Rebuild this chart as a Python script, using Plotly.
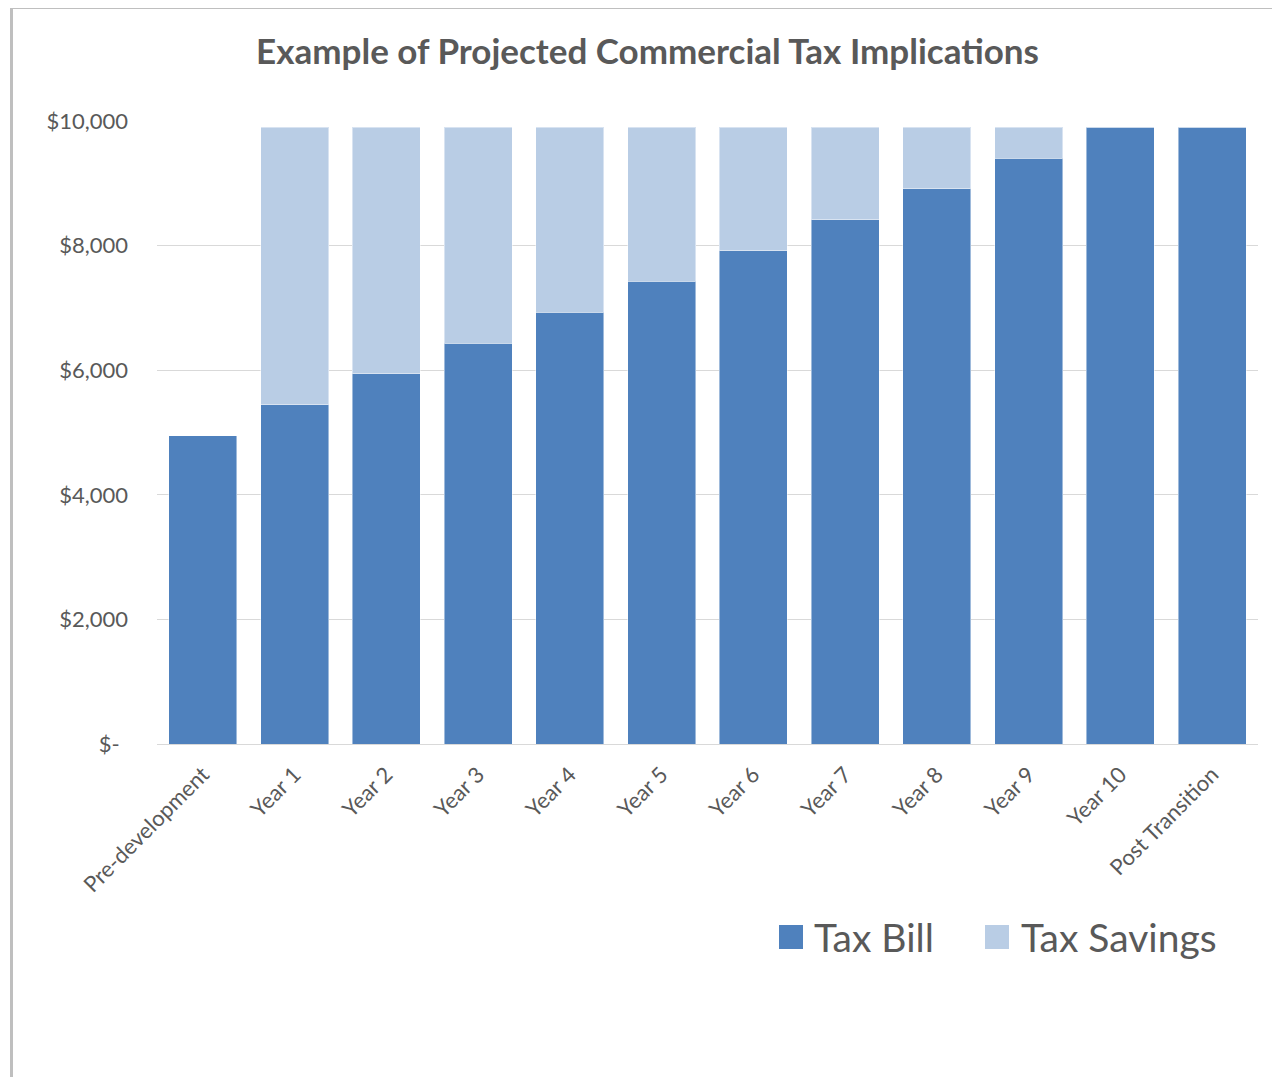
import plotly.graph_objects as go

categories = ["Pre-development", "Year 1", "Year 2", "Year 3", "Year 4", "Year 5",
              "Year 6", "Year 7", "Year 8", "Year 9", "Year 10", "Post Transition"]
tax_bill = [4950, 5445, 5940, 6435, 6930, 7425, 7920, 8415, 8910, 9405, 9900, 9900]
tax_savings = [0, 4455, 3960, 3465, 2970, 2475, 1980, 1485, 990, 495, 0, 0]
y_tick_vals = [0, 2000, 4000, 6000, 8000, 10000]
y_tick_text = ["$-\u00a0\u2009", "$2,000", "$4,000", "$6,000", "$8,000", "$10,000"]

OFF = 8  # page body margin
W, H = 1280 - OFF, 1077 - OFF
L, T = 157 - OFF, 121 - OFF
PW, PH = 1101, 623
R, B = W - L - PW, H - T - PH
FONT = "Lato"
GRAY = "#595959"
C_BILL = "#4F81BD"
C_SAVE = "#B9CDE5"


def px(x):
    return (x - OFF - L) / PW


def py(y):
    return 1 - (y - OFF - T) / PH


fig = go.Figure()
fig.add_trace(go.Bar(x=categories, y=tax_bill, name="Tax Bill", marker_color=C_BILL,
                     marker_line=dict(color="rgba(255,255,255,0.45)", width=1), showlegend=False))
fig.add_trace(go.Bar(x=categories, y=tax_savings, name="Tax Savings", marker_color=C_SAVE,
                     marker_line=dict(color="rgba(255,255,255,0.45)", width=1), showlegend=False))

shapes = [
    # outer frame (left and top edges)
    dict(type="line", xref="paper", yref="paper", x0=px(11.5), x1=px(11.5), y0=py(8), y1=py(1090),
         line=dict(color="#BFBFBF", width=3)),
    dict(type="line", xref="paper", yref="paper", x0=px(10), x1=px(1290), y0=py(8), y1=py(8),
         line=dict(color="#BFBFBF", width=2)),
    # legend swatches
    dict(type="rect", xref="paper", yref="paper", x0=px(779), x1=px(803), y0=py(925), y1=py(949),
         fillcolor=C_BILL, line=dict(width=0)),
    dict(type="rect", xref="paper", yref="paper", x0=px(985), x1=px(1009), y0=py(925), y1=py(949),
         fillcolor=C_SAVE, line=dict(width=0)),
]
annotations = [
    dict(text="Tax Bill", xref="paper", yref="paper", x=px(812), y=py(937), xanchor="left",
         yanchor="middle", showarrow=False, font=dict(family=FONT, size=39, color=GRAY)),
    dict(text="Tax Savings", xref="paper", yref="paper", x=px(1019), y=py(937), xanchor="left",
         yanchor="middle", showarrow=False, font=dict(family=FONT, size=39, color=GRAY)),
]

fig.update_layout(
    width=W, height=H,
    margin=dict(l=L, r=R, t=T, b=B),
    paper_bgcolor="white", plot_bgcolor="white",
    barmode="stack", bargap=0.259,
    title=dict(text="<b>Example of Projected Commercial Tax Implications</b>",
               x=(647.5 - OFF) / W, xanchor="center", y=1 - (52 - OFF) / H, yanchor="middle",
               font=dict(family=FONT, size=35, color=GRAY)),
    font=dict(family=FONT, color=GRAY),
    shapes=shapes,
    annotations=annotations,
    showlegend=False,
)
fig.update_yaxes(range=[0, 10000], tickvals=y_tick_vals, ticktext=y_tick_text,
                 gridcolor="#D9D9D9", gridwidth=1, zeroline=False, showline=False,
                 tickfont=dict(family=FONT, size=22, color=GRAY), ticklabelstandoff=28)
fig.update_xaxes(tickangle=-45, tickfont=dict(family=FONT, size=22, color=GRAY),
                 showline=True, linecolor="#D9D9D9", linewidth=1, ticks="",
                 ticklabelstandoff=8)

fig.write_html("out.html")
